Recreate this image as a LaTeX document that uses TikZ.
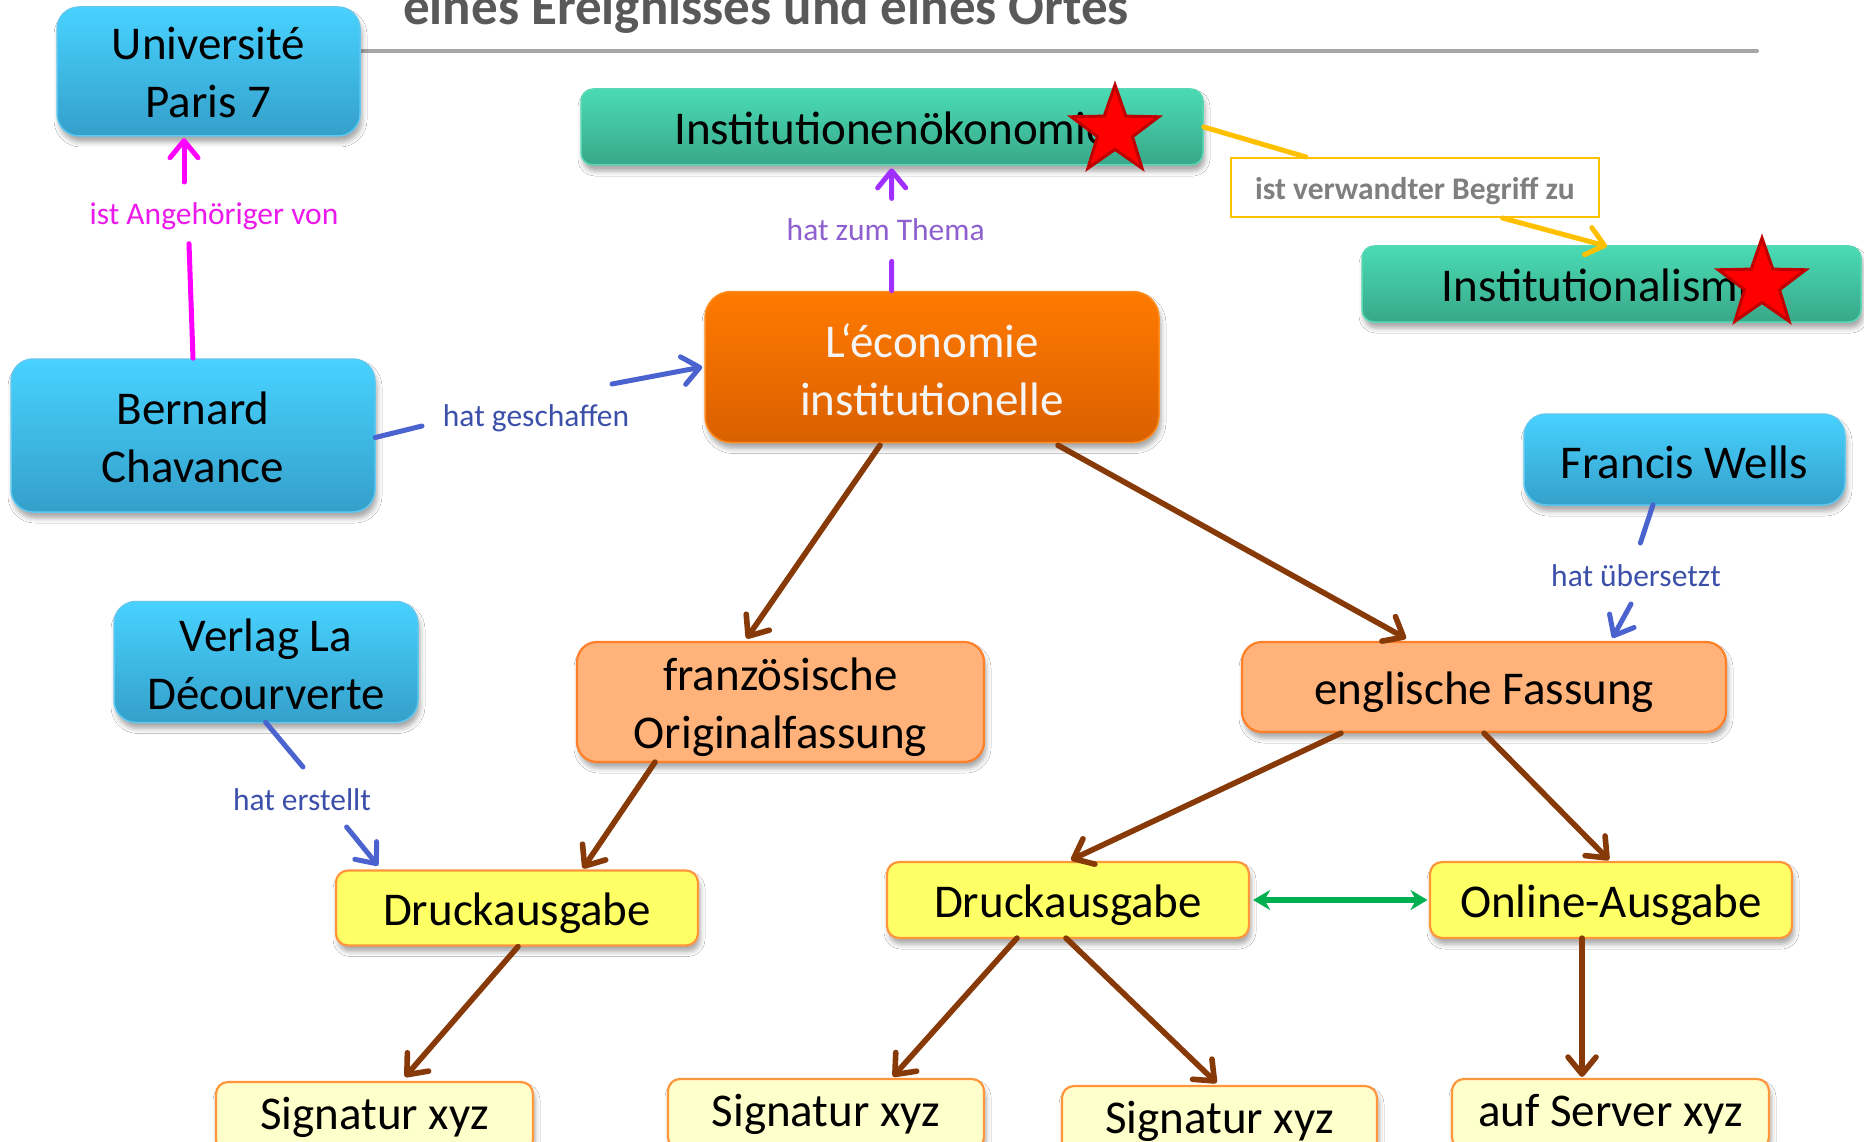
\documentclass[tikz,border=0pt]{standalone}
\usepackage{fontspec}
\setmainfont{Carlito}
\usetikzlibrary{arrows.meta,shapes.geometric,shadows.blur,calc}

\definecolor{blueT}{RGB}{72,210,255}
\definecolor{blueB}{RGB}{52,160,202}
\definecolor{blueE}{RGB}{95,200,240}
\definecolor{greenT}{RGB}{74,219,180}
\definecolor{greenB}{RGB}{56,168,138}
\definecolor{greenE}{RGB}{90,215,180}
\definecolor{oraT}{RGB}{255,122,0}
\definecolor{oraB}{RGB}{218,96,0}
\definecolor{oraE}{RGB}{255,140,30}
\definecolor{peach}{RGB}{255,178,122}
\definecolor{peachE}{RGB}{255,128,40}
\definecolor{yel}{RGB}{255,255,102}
\definecolor{yelE}{RGB}{255,150,60}
\definecolor{cream}{RGB}{255,255,204}
\definecolor{brownL}{RGB}{135,58,8}
\definecolor{blueL}{RGB}{75,99,207}
\definecolor{blueTx}{RGB}{60,80,170}
\definecolor{magL}{RGB}{255,0,255}
\definecolor{magTx}{RGB}{235,25,235}
\definecolor{purL}{RGB}{160,48,255}
\definecolor{purTx}{RGB}{142,95,207}
\definecolor{yelL}{RGB}{255,192,0}
\definecolor{grnL}{RGB}{0,176,80}
\definecolor{titleG}{RGB}{89,89,89}
\definecolor{lineG}{RGB}{166,166,166}
\definecolor{relTx}{RGB}{127,127,127}
\definecolor{starR}{RGB}{255,0,0}
\definecolor{starE}{RGB}{192,0,0}

% lower a text by #1 while keeping its box dimensions
\newcommand\dn[2]{\raisebox{-#1}[\height][\depth]{#2}}

\tikzset{
  nodefont/.style={font=\fontsize{47}{58}\selectfont},
  shad/.style={blur shadow={shadow xshift=2pt,shadow yshift=-6pt,shadow blur radius=5pt,shadow opacity=35}},
  bluebox/.style={nodefont, shad, rounded corners=22pt, inner sep=0pt, align=center,
    top color=blueT, bottom color=blueB, draw=blueE, line width=1.5pt},
  greenbox/.style={nodefont, shad, rounded corners=12pt, inner sep=0pt, align=center,
    top color=greenT, bottom color=greenB, draw=greenE, line width=1.5pt},
  orangebox/.style={nodefont, shad, rounded corners=26pt, inner sep=0pt, align=center,
    top color=oraT, bottom color=oraB, draw=oraE, line width=1.5pt, text={rgb,255:red,245;green,245;blue,245}},
  peachbox/.style={nodefont, shad, rounded corners=20pt, inner sep=0pt, align=center,
    fill=peach, draw=peachE, line width=2.2pt},
  yellowbox/.style={nodefont, shad, rounded corners=12pt, inner sep=0pt, align=center,
    fill=yel, draw=yelE, line width=2.2pt},
  creambox/.style={nodefont, shad, rounded corners=12pt, inner sep=0pt, align=center,
    fill=cream, draw=yelE, line width=2.2pt},
  lbl/.style={inner sep=0pt, font=\fontsize{31.5}{36}\selectfont},
  con/.style={line width=5pt, line cap=round},
  thick con/.style={line width=5.6pt, line cap=round},
  barbarrow/.style={-{Straight Barb[length=17pt,width=28pt,round]}},
  redstar/.style={star, star points=5, star point ratio=2.5, minimum size=92pt, inner sep=0pt,
    fill=starR, draw=starE, line width=3pt},
}

\begin{document}
\begin{tikzpicture}[x=1pt,y=-1pt]
\clip (0,0) rectangle (1864,1142);
\fill[white] (0,0) rectangle (1864,1142);

% title fragment and rule
\node[anchor=base west, inner sep=0pt, font=\fontsize{53}{60}\selectfont\bfseries, text=titleG] (title) at (403,25) {eines Ereignisses und eines Ortes};
\coordinate (hl1) at (362,51);
\coordinate (hl2) at (1757,51);
\draw[lineG, line width=4pt, line cap=round] (hl1) -- (hl2);

% concept nodes
\node[bluebox, minimum width=303, minimum height=129] (up7) at (208.5,71.5) {\dn{1.2pt}{Université}\\\dn{1.2pt}{Paris 7}};
\node[greenbox, minimum width=622, minimum height=76] (ie) at (892,127) {\dn{1.2pt}{Institutionenökonomie}};
\node[greenbox, minimum width=499, minimum height=76] (ism) at (1611.5,284) {\dn{1.2pt}{Institutionalismus}};
\node[orangebox, minimum width=454, minimum height=151] (eco) at (932,367) {\dn{3pt}{L‘économie}\\\dn{3pt}{institutionelle}};
\node[bluebox, minimum width=364, minimum height=153] (bc) at (193,435.5) {\dn{1.8pt}{Bernard}\\\dn{1.8pt}{Chavance}};
\node[bluebox, minimum width=321, minimum height=91] (fw) at (1684.5,459.5) {\dn{2.4pt}{Francis Wells}};
\node[peachbox, minimum width=484, minimum height=90] (eng) at (1484,687) {\dn{4.8pt}{englische Fassung}};
\node[bluebox, minimum width=304, minimum height=121] (ver) at (266,662) {\dn{2.4pt}{Verlag La}\\\dn{2.4pt}{Décourverte}};
\node[peachbox, minimum width=407, minimum height=120] (fra) at (780.5,702) {\dn{4.8pt}{französische}\\\dn{4.8pt}{Originalfassung}};
\node[yellowbox, minimum width=362, minimum height=75] (dl) at (517,908) {\dn{4.8pt}{Druckausgabe}};
\node[yellowbox, minimum width=362, minimum height=76] (dr) at (1068,900) {\dn{4.8pt}{Druckausgabe}};
\node[yellowbox, minimum width=362, minimum height=76] (on) at (1611,900) {\dn{4.8pt}{Online-Ausgabe}};
\node[creambox, minimum width=317, minimum height=70] (s1) at (374.5,1117) {Signatur xyz};
\node[creambox, minimum width=316, minimum height=70] (s2) at (826,1114) {Signatur xyz};
\node[creambox, minimum width=315, minimum height=70] (s3) at (1219.5,1121) {Signatur xyz};
\node[creambox, minimum width=317, minimum height=70] (srv) at (1610.5,1114) {auf Server xyz};

% stars
\node[redstar] (st1) at (1115,131) {};
\node[redstar] (st2) at (1762,284) {};

% linking phrases
\node[lbl, text=magTx] (l1) at (214,214) {\dn{2pt}{ist Angehöriger von}};
\node[lbl, text=blueTx] (l2) at (536,416) {\dn{2.4pt}{hat geschaffen}};
\node[lbl, text=purTx] (l3) at (885.7,229.4) {hat zum Thema};
\node[draw=yelL, line width=2pt, fill=white, inner sep=0pt, minimum width=368, minimum height=59,
      font=\fontsize{31.5}{36}\selectfont\bfseries, text=relTx] (rel) at (1415,187.5) {\dn{3.6pt}{ist verwandter Begriff zu}};
\node[lbl, text=blueTx] (l5) at (1636,573) {\dn{2.4pt}{hat übersetzt}};
\node[lbl, text=blueTx] (l6) at (302,798) {\dn{1.2pt}{hat erstellt}};

% magenta: ist Angehöriger von
\draw[con, magL] (bc.north) -- ($(l1)+(-25,29.7)$);
\draw[con, magL, barbarrow] ($(l1)+(-30,-32)$) -- ($(up7.south)+(-24.5,1.5)$);

% blue: hat geschaffen
\draw[con, blueL] ($(bc.east)+(-0.5,2)$) -- ($(l2)+(-114,10)$);
\draw[con, blueL, barbarrow] ($(l2)+(76,-32)$) -- ($(eco.west)+(-2,0)$);

% purple: hat zum Thema
\draw[con, purL] ($(eco.north)+(-40.4,0)$) -- ($(l3)+(6,32)$);
\draw[con, purL, barbarrow] ($(l3)+(6,-31)$) -- ($(ie.south)+(-0.4,2.6)$);

% yellow: ist verwandter Begriff zu
\draw[con, yelL] (ie.east) -- ($(rel.north)+(-109,0)$);
\draw[con, yelL, barbarrow] ($(rel.south)+(87.5,0)$) -- ($(ism.north)+(-4.5,1)$);

% brown hierarchy
\draw[thick con, brownL, barbarrow] ($(eco.south)+(-52,2)$) -- ($(fra.north)+(-34,-2.4)$);
\draw[thick con, brownL, barbarrow] ($(eco.south)+(126,2)$) -- ($(eng.north)+(-78,-2.4)$);
\draw[thick con, brownL, barbarrow] ($(fra.south)+(-125.5,-1)$) -- ($(dl.north)+(66,-1)$);
\draw[thick con, brownL, barbarrow] ($(eng.south)+(-143,0)$) -- ($(dr.north)+(3,-1)$);
\draw[thick con, brownL, barbarrow] (eng.south) -- ($(on.north)+(-2,-1)$);
\draw[thick con, brownL, barbarrow] ($(dl.south)+(1,0)$) -- ($(s1.north)+(30.5,-4)$);
\draw[thick con, brownL, barbarrow] ($(dr.south)+(-51,-1)$) -- ($(s2.north)+(67,-1.3)$);
\draw[thick con, brownL, barbarrow] ($(dr.south)+(-2,-1)$) -- ($(s3.north)+(-3,-2)$);
\draw[thick con, brownL, barbarrow] ($(on.south)+(-29,-1)$) -- ($(srv.north)+(-28.5,-1)$);

% blue: hat übersetzt
\draw[con, blueL] ($(fw.south)+(-31.5,-1)$) -- ($(l5)+(4.4,-30)$);
\draw[con, blueL, barbarrow] ($(l5)+(-5,31)$) -- ($(eng.north)+(128.5,-3)$);

% blue: hat erstellt
\draw[con, blueL] ($(ver.south)+(-0.4,-1)$) -- ($(l6)+(1,-31)$);
\draw[con, blueL, barbarrow] ($(l6)+(44.6,29)$) -- ($(dl.north)+(-139,-3.8)$);

% green double arrow
\draw[thick con, grnL, {Stealth[length=17pt,width=20pt]}-{Stealth[length=17pt,width=20pt]}] ($(dr.east)+(3,0)$) -- ($(on.west)+(-1.4,0)$);
\end{tikzpicture}
\end{document}
